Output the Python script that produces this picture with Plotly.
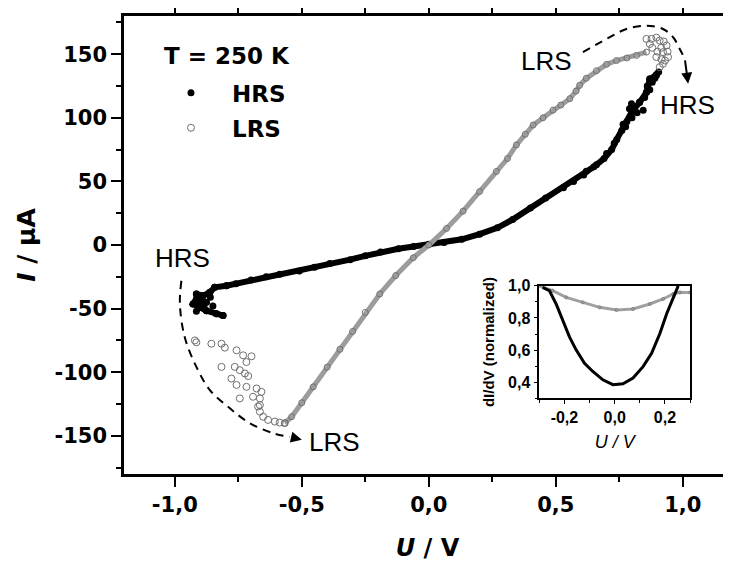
import plotly.graph_objects as go

# ---------------- data ----------------
# HRS branch: dense band incl. the blob at the set point (V in volts, I in microampere)
hrs_band_v = [-0.81, -0.836, -0.875, -0.902, -0.928, -0.915, -0.902, -0.915, -0.889, -0.862,
              -0.843, -0.797, -0.76, -0.70, -0.64, -0.587, -0.51, -0.45, -0.39, -0.31,
              -0.25, -0.19, -0.12, -0.06, 0.0, 0.06, 0.13, 0.20, 0.27, 0.33,
              0.40, 0.46, 0.53, 0.57, 0.61, 0.65, 0.69, 0.72, 0.74, 0.76,
              0.78, 0.80, 0.83, 0.857, 0.87, 0.896]
hrs_band_i = [-55.5, -54.1, -51.6, -49, -46.3, -42.4, -44, -38.5, -39.8, -37.2,
              -33.3, -32, -30.5, -27.5, -25, -23, -20.5, -17.5, -14.5, -11.5,
              -8.5, -5.5, -3, -1.2, 0.5, 2, 4.5, 8.5, 13.5, 20,
              29, 37, 45, 50, 55, 61.5, 68, 75, 83, 90,
              97, 105, 112, 120, 130, 134]
# HRS branch: scattered points around the switching regions
hrs_scat_v = [-0.797, -0.843, -0.862, -0.915, -0.889, -0.902, -0.875, -0.928, -0.902,
              -0.875, -0.836, -0.81, -0.895, -0.915, -0.86, -0.85, -0.885, -0.91,
              0.62, 0.66, 0.70, 0.73, 0.765, 0.775, 0.79, 0.80, 0.798, 0.81, 0.82,
              0.83, 0.844, 0.85, 0.857, 0.86, 0.87, 0.87, 0.88, 0.89, 0.896, 0.905]
hrs_scat_i = [-32, -33.3, -37.2, -38.5, -39.8, -42.4, -45, -46.3, -49,
              -51.6, -54.1, -55.5, -44, -52, -41, -48, -47.7, -41,
              58, 63, 72, 80, 95, 93, 107, 100, 111, 108, 104,
              112.5, 106, 116, 120, 125, 122, 130.7, 128, 131, 133.3, 136]

# LRS branch: scattered points after set (lower left) and before reset (top right)
lrs_scat_v = [-0.921, -0.915, -0.856, -0.816, -0.803, -0.757, -0.731, -0.698, -0.718,
              -0.816, -0.764, -0.744, -0.724, -0.711, -0.777, -0.757, -0.718, -0.678,
              -0.659, -0.744, -0.665, -0.692, -0.665, -0.672, -0.665, -0.652, -0.633,
              -0.606, -0.587, -0.567,
              0.857, 0.877, 0.896, 0.909, 0.925, 0.936, 0.87, 0.915, 0.88, 0.9,
              0.94, 0.922, 0.942, 0.896, 0.916, 0.93, 0.922, 0.909]
lrs_scat_i = [-75, -76.5, -77.6, -77.6, -80.7, -82.8, -86.7, -87.5, -92,
              -95.8, -95.8, -98.4, -101, -103, -105, -110, -111.5, -112.8,
              -115.4, -120.6, -120.6, -119.3, -125.8, -127, -131, -135, -137.5,
              -138.8, -139.6, -140,
              162, 162, 163, 160.7, 160, 156.8, 158, 155, 155, 152,
              152, 151.6, 147.7, 147.7, 146, 145, 142.4, 139.8]
# LRS branch: dense band
lrs_band_v = [-0.567, -0.54, -0.50, -0.455, -0.40, -0.35, -0.30, -0.25, -0.193, -0.13,
              -0.061, 0.0, 0.07, 0.135, 0.20, 0.266, 0.31, 0.345, 0.38, 0.411,
              0.45, 0.489, 0.52, 0.555, 0.58, 0.594, 0.62, 0.66, 0.70, 0.739,
              0.78, 0.818, 0.857]
lrs_band_i = [-140, -135, -124, -111.5, -96, -82, -68, -53, -38.5, -24,
              -10, 0, 13, 26.6, 42, 57.8, 68, 78.7, 87, 94.3,
              100, 106, 110, 115, 121, 125.5, 131, 137, 142, 145,
              147, 149, 151.6]

# switching paths (dashed guide arcs)
arc_set_v = [-0.974, -0.980, -0.961, -0.915, -0.862, -0.783, -0.705, -0.613, -0.547]
arc_set_i = [-28.1, -46.1, -72.4, -95.8, -114, -128.4, -140, -147.9, -150.8]
arc_reset_v = [0.607, 0.70, 0.778, 0.857, 0.922, 0.962, 0.988, 1.008]
arc_reset_i = [151.6, 162, 169.8, 172.4, 169.8, 163.3, 154.1, 146.3]

# inset: normalized differential conductance
ins_hrs_v = [-0.287, -0.26, -0.233, -0.207, -0.18, -0.153, -0.12, -0.087, -0.047, -0.007,
             0.033, 0.073, 0.113, 0.147, 0.18, 0.207, 0.233, 0.253]
ins_hrs_g = [0.99, 0.97, 0.887, 0.785, 0.682, 0.60, 0.518, 0.467, 0.415, 0.385,
             0.391, 0.426, 0.497, 0.58, 0.703, 0.826, 0.928, 1.0]
ins_lrs_v = [-0.30, -0.247, -0.193, -0.127, -0.06, 0.007, 0.073, 0.14, 0.193, 0.233, 0.26, 0.30]
ins_lrs_g = [1.0, 0.97, 0.928, 0.897, 0.866, 0.85, 0.856, 0.887, 0.918, 0.949, 0.959, 0.959]

# tick labels
x_tick_vals = [-1.0, -0.5, 0.0, 0.5, 1.0]
x_tick_text = ["-1,0", "-0,5", "0,0", "0,5", "1,0"]
y_tick_vals = [-150, -100, -50, 0, 50, 100, 150]
y_tick_text = ["-150", "-100", "-50", "0", "50", "100", "150"]
ix_tick_vals = [-0.2, 0.0, 0.2]
ix_tick_text = ["-0,2", "0,0", "0,2"]
iy_tick_vals = [0.4, 0.6, 0.8, 1.0]
iy_tick_text = ["0,4", "0,6", "0,8", "1,0"]

# ---------------- figure ----------------
BOLD = "DejaVu Sans"
ARIAL = "Liberation Sans"
LRS_EDGE = "#707070"
LRS_FILL = "#9c9c9c"

fig = go.Figure()

fig.add_trace(go.Scatter(x=hrs_band_v, y=hrs_band_i, mode="lines+markers",
                         line=dict(color="black", width=6),
                         marker=dict(color="black", size=7),
                         legendgroup="hrs", showlegend=False, hoverinfo="skip"))
fig.add_trace(go.Scatter(x=hrs_scat_v, y=hrs_scat_i, mode="markers", name="HRS",
                         marker=dict(color="black", size=7),
                         legendgroup="hrs"))
fig.add_trace(go.Scatter(x=lrs_band_v, y=lrs_band_i, mode="lines+markers",
                         line=dict(color=LRS_FILL, width=5),
                         marker=dict(symbol="circle-open", color=LRS_EDGE, size=6,
                                     line=dict(width=1)),
                         legendgroup="lrs", showlegend=False, hoverinfo="skip"))
fig.add_trace(go.Scatter(x=lrs_scat_v, y=lrs_scat_i, mode="markers", name="LRS",
                         marker=dict(symbol="circle-open", color=LRS_EDGE, size=7,
                                     line=dict(width=1)),
                         legendgroup="lrs"))

# dashed switching arcs
for av, ai in ((arc_set_v, arc_set_i), (arc_reset_v, arc_reset_i)):
    fig.add_trace(go.Scatter(x=av, y=ai, mode="lines",
                             line=dict(color="black", width=2, dash="8px,6px", shape="spline"),
                             showlegend=False, hoverinfo="skip"))

# inset traces
fig.add_trace(go.Scatter(x=ins_lrs_v, y=ins_lrs_g, mode="lines+markers", xaxis="x2", yaxis="y2",
                         line=dict(color="#a0a0a0", width=3),
                         marker=dict(symbol="circle-open", color="#808080", size=3),
                         showlegend=False, hoverinfo="skip"))
fig.add_trace(go.Scatter(x=ins_hrs_v, y=ins_hrs_g, mode="lines", xaxis="x2", yaxis="y2",
                         line=dict(color="black", width=3),
                         showlegend=False, hoverinfo="skip"))

# arrowheads at ends of the arcs
fig.add_annotation(x=-0.50, y=-153, ax=arc_set_v[-1], ay=arc_set_i[-1], xref="x", yref="y",
                   axref="x", ayref="y", text="", showarrow=True, arrowhead=2,
                   arrowsize=1.1, arrowwidth=2, arrowcolor="black")
fig.add_annotation(x=1.021, y=126.8, ax=arc_reset_v[-1], ay=arc_reset_i[-1], xref="x", yref="y",
                   axref="x", ayref="y", text="", showarrow=True, arrowhead=2,
                   arrowsize=1.1, arrowwidth=2, arrowcolor="black")

# state labels
label_font = dict(family=ARIAL, size=26, color="black")
for txt, lx, ly in (("LRS", 0.465, 145), ("HRS", 1.02, 110),
                    ("HRS", -0.968, -10.5), ("LRS", -0.37, -155)):
    fig.add_annotation(x=lx, y=ly, xref="x", yref="y", text=txt, showarrow=False,
                       font=label_font, xanchor="center", yanchor="middle")

# temperature label
fig.add_annotation(x=0.0626, y=0.913, xref="paper", yref="paper", text="T = 250 K",
                   showarrow=False, xanchor="left", yanchor="middle",
                   font=dict(family=BOLD, size=23, color="black", weight="bold"))

main_tickfont = dict(family=BOLD, size=21, color="black", weight="bold")
inset_tickfont = dict(family=ARIAL, size=16, color="black", weight="bold")

# the page adds an 8 px body margin, so the figure is 8 px smaller each way
fig.update_layout(
    width=723, height=554,
    margin=dict(l=116, r=0, t=6, b=88),
    paper_bgcolor="white", plot_bgcolor="white",
    showlegend=True,
    legend=dict(x=0.0428, y=0.879, xanchor="left", yanchor="top",
                bgcolor="rgba(0,0,0,0)", borderwidth=0, itemwidth=72,
                tracegroupgap=2,
                font=dict(family=BOLD, size=23, color="black", weight="bold")),
    xaxis=dict(domain=[0, 1], range=[-1.2, 1.1898], showgrid=False, zeroline=False,
               showline=True, linecolor="black", linewidth=2.5, mirror="ticks",
               ticks="outside", ticklen=10, tickwidth=2, tickcolor="black",
               tickmode="array", tickvals=x_tick_vals, ticktext=x_tick_text,
               tickfont=main_tickfont, automargin=False,
               minor=dict(ticks="outside", ticklen=5, tickwidth=2, tickcolor="black",
                          tickmode="linear", tick0=0, dtick=0.25),
               title=dict(text="<b><i>U</i> / V</b>", standoff=26,
                          font=dict(family=BOLD, size=24, color="black"))),
    yaxis=dict(domain=[0, 1], range=[-180, 180], showgrid=False, zeroline=False,
               showline=True, linecolor="black", linewidth=2.5,
               ticks="outside", ticklen=10, tickwidth=2, tickcolor="black",
               tickmode="array", tickvals=y_tick_vals, ticktext=y_tick_text,
               tickfont=main_tickfont, automargin=False,
               minor=dict(ticks="outside", ticklen=5, tickwidth=2, tickcolor="black",
                          tickmode="linear", tick0=0, dtick=25),
               title=dict(text="<b><i>I</i> / µA</b>", standoff=12,
                          font=dict(family=BOLD, size=25, color="black"))),
    xaxis2=dict(domain=[0.6842, 0.9325], anchor="y2", range=[-0.3, 0.3],
                showgrid=False, zeroline=False, showline=True, linecolor="black",
                linewidth=1.5, mirror=True, ticks="outside", ticklen=4, tickwidth=1.2,
                tickcolor="black", tickmode="array", tickvals=ix_tick_vals,
                ticktext=ix_tick_text, tickfont=inset_tickfont,
                minor=dict(ticks="outside", ticklen=3, tickwidth=1, tickcolor="black",
                           tickmode="linear", tick0=0, dtick=0.1),
                title=dict(text="<i>U / V</i>", standoff=10,
                           font=dict(family=ARIAL, size=18, color="black"))),
    yaxis2=dict(domain=[0.1652, 0.4109], anchor="x2", range=[0.3, 1.0],
                showgrid=False, zeroline=False, showline=True, linecolor="black",
                linewidth=1.5, mirror=True, ticks="outside", ticklen=4, tickwidth=1.2,
                tickcolor="black", tickmode="array", tickvals=iy_tick_vals,
                ticktext=iy_tick_text, tickfont=inset_tickfont,
                minor=dict(ticks="outside", ticklen=3, tickwidth=1, tickcolor="black",
                           tickmode="linear", tick0=0, dtick=0.1),
                title=dict(text="<b>dI/dV (normalized)</b>", standoff=10,
                           font=dict(family=ARIAL, size=15, color="black"))),
)

fig.write_html("out.html")
